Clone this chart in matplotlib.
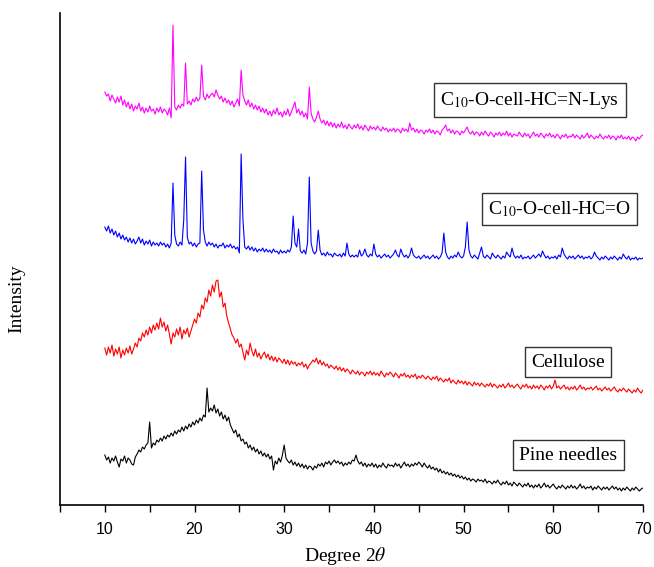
import numpy as np
import matplotlib
matplotlib.use("Agg")
import matplotlib.pyplot as plt

plt.rcParams['font.family'] = ['Liberation Serif', 'DejaVu Serif']
plt.rcParams['mathtext.fontset'] = 'stix'

# 2-theta grid, 10..70 deg in 0.2 deg steps
two_theta = np.round(np.arange(10.0, 70.01, 0.2), 1)

# intensities (arbitrary units, curves already offset)
lys = [
    413, 409, 411, 404, 410, 406, 402, 408, 403, 409,
    400, 405, 398, 403, 396, 401, 394, 399, 396, 402,
    394, 398, 392, 397, 393, 399, 394, 396, 391, 397,
    393, 398, 392, 396, 394, 390, 397, 387, 480, 398,
    395, 400, 397, 401, 399, 442, 401, 404, 400, 406,
    403, 408, 404, 407, 440, 409, 405, 411, 407, 410,
    412, 408, 415, 410, 406, 409, 403, 407, 402, 405,
    400, 404, 398, 402, 406, 399, 435, 410, 404, 400,
    405, 398, 402, 396, 400, 395, 399, 393, 397, 392,
    396, 390, 394, 389, 395, 391, 397, 390, 393, 388,
    394, 390, 396, 389, 393, 398, 403, 392, 396, 390,
    394, 388, 392, 386, 418, 392, 386, 383, 388, 394,
    386, 382, 385, 380, 384, 379, 383, 378, 382, 377,
    381, 378, 383, 377, 380, 376, 381, 378, 376, 380,
    377, 381, 376, 379, 375, 380, 377, 374, 379, 376,
    378, 375, 379, 376, 374, 378, 375, 377, 373, 376,
    374, 377, 373, 376, 375, 372, 377, 374, 376, 373,
    382, 375, 377, 373, 376, 372, 375, 374, 371, 375,
    373, 376, 372, 375, 371, 374, 373, 370, 375, 377,
    380, 374, 376, 372, 375, 371, 374, 373, 370, 374,
    372, 375, 378, 373, 371, 374, 370, 373, 372, 369,
    373, 370, 374, 371, 369, 373, 371, 368, 372, 370,
    373, 369, 372, 370, 374, 369, 372, 368, 371, 370,
    369, 373, 370, 368, 372, 369, 371, 367, 370, 373,
    369, 371, 368, 372, 370, 367, 371, 369, 372, 368,
    370, 367, 371, 369, 366, 370, 368, 371, 367, 369,
    368, 371, 367, 370, 368, 366, 370, 367, 369, 372,
    367, 370, 368, 366, 369, 367, 371, 368, 366, 369,
    367, 370, 366, 369, 368, 365, 369, 367, 370, 366,
    368, 366, 369, 365, 368, 367, 364, 368, 366, 369,
    370,
]

aldehyde = [
    278, 274, 279, 272, 276, 270, 274, 268, 272, 266,
    270, 265, 268, 263, 267, 262, 266, 261, 264, 268,
    262, 266, 260, 264, 261, 265, 259, 263, 260, 262,
    259, 263, 260, 262, 258, 261, 257, 262, 322, 270,
    261, 259, 263, 260, 285, 348, 268, 261, 263, 259,
    262, 258, 261, 262, 334, 275, 263, 259, 263, 260,
    262, 258, 261, 257, 260, 259, 262, 257, 260, 258,
    261, 257, 259, 256, 258, 252, 351, 285, 258, 256,
    259, 255, 258, 254, 257, 253, 256, 254, 257, 253,
    256, 253, 255, 252, 256, 253, 254, 251, 255, 252,
    254, 252, 255, 253, 258, 289, 262, 258, 276, 254,
    252, 255, 251, 262, 328, 262, 254, 251, 254, 275,
    255, 250, 252, 249, 253, 250, 251, 248, 252, 250,
    249, 251, 248, 252, 249, 262, 251, 248, 250, 248,
    250, 248, 255, 249, 251, 256, 250, 248, 251, 249,
    261, 251, 248, 250, 247, 249, 251, 248, 250, 247,
    249, 251, 255, 250, 248, 256, 251, 248, 250, 247,
    250, 257, 250, 248, 247, 249, 246, 248, 250, 247,
    249, 246, 248, 250, 247, 249, 246, 248, 252, 272,
    253, 248, 246, 249, 247, 250, 248, 253, 249, 247,
    249, 258, 283, 255, 249, 247, 250, 248, 246, 252,
    258, 249, 247, 250, 248, 246, 252, 249, 247, 250,
    248, 246, 249, 247, 253, 250, 248, 257, 250, 247,
    249, 247, 250, 246, 248, 247, 249, 246, 248, 250,
    247, 249, 251, 248, 254, 250, 247, 249, 246, 248,
    247, 249, 246, 250, 248, 257, 251, 248, 246, 249,
    247, 249, 246, 248, 250, 247, 249, 246, 248, 247,
    249, 246, 248, 253, 249, 247, 245, 248, 246, 249,
    247, 245, 248, 246, 249, 247, 245, 248, 246, 251,
    248, 246, 249, 245, 247, 246, 248, 245, 247, 246,
    247,
]

cellulose = [
    157, 150, 158, 152, 160, 149, 156, 151, 158, 147,
    155, 150, 157, 152, 159, 151, 156, 162, 158, 167,
    164, 172, 168, 175, 170, 178, 172, 180, 175, 182,
    176, 187, 178, 183, 174, 180, 171, 161, 172, 168,
    176, 170, 178, 166, 175, 171, 177, 168, 174, 180,
    186, 182, 192, 188, 200, 196, 207, 203, 215, 209,
    220, 213, 224, 225, 208, 213, 198, 202, 189, 182,
    176, 170, 167, 162, 166, 158, 161, 153, 145, 155,
    150, 162, 154, 149, 156, 148, 152, 146, 150, 153,
    147, 151, 145, 149, 144, 148, 143, 147, 145, 142,
    146, 141, 145, 140, 144, 141, 143, 139, 142, 140,
    143, 138, 141, 136, 140, 142, 145, 143, 147, 141,
    145, 140, 143, 139, 141, 137, 140, 138, 136, 139,
    135, 138, 134, 137, 133, 136, 134, 131, 135, 133,
    131, 134, 130, 133, 132, 129, 133, 131, 134, 130,
    133, 130, 132, 129, 134, 131, 128, 132, 130, 133,
    131, 128, 132, 130, 127, 131, 129, 132, 128, 130,
    127, 130, 128, 131, 126, 129, 127, 130, 128, 126,
    129, 127, 125, 128, 126, 129, 124, 127, 125, 123,
    126, 124, 127, 122, 125, 123, 121, 125, 122, 124,
    121, 124, 120, 123, 121, 119, 123, 120, 122, 119,
    122, 120, 118, 121, 119, 122, 118, 121, 119, 117,
    120, 118, 121, 117, 119, 122, 118, 120, 117, 119,
    121, 118, 116, 120, 118, 121, 117, 119, 116, 120,
    117, 119, 116, 120, 118, 115, 119, 117, 120, 116,
    119, 125, 117, 119, 116, 118, 120, 116, 118, 115,
    118, 116, 119, 115, 117, 120, 116, 118, 115, 117,
    116, 118, 115, 117, 119, 115, 117, 114, 116, 118,
    115, 117, 114, 116, 118, 115, 113, 116, 114, 117,
    115, 113, 116, 114, 112, 115, 113, 117, 114, 112,
    115,
]

pine = [
    50, 45, 48, 42, 47, 44, 49, 43, 38, 46,
    44, 49, 42, 47, 45, 41, 40, 48, 51, 55,
    53, 58, 56, 60, 62, 83, 57, 62, 60, 65,
    63, 67, 64, 69, 66, 70, 68, 72, 69, 74,
    71, 75, 73, 78, 74, 79, 76, 81, 78, 83,
    80, 85, 82, 87, 84, 90, 88, 117, 93, 97,
    94, 100, 92, 96, 89, 93, 86, 90, 84, 88,
    80, 76, 72, 75, 68, 71, 64, 66, 61, 63,
    57, 60, 55, 58, 53, 56, 51, 54, 49, 52,
    48, 51, 46, 49, 35, 44, 41, 47, 43, 50,
    60, 47, 44, 42, 45, 40, 43, 39, 42, 38,
    41, 37, 40, 36, 39, 38, 35, 39, 37, 41,
    39, 42, 38, 43, 41, 44, 40, 43, 45, 42,
    44, 41, 43, 39, 42, 40, 43, 41, 45, 44,
    50, 44, 41, 43, 39, 42, 38, 41, 39, 42,
    38, 41, 37, 40, 38, 42, 39, 37, 41, 39,
    40, 38, 42, 39, 41, 37, 40, 43, 39, 41,
    38, 41, 39, 42, 40, 43, 41, 38, 42, 39,
    37, 40, 36, 38, 35, 37, 33, 36, 32, 34,
    31, 33, 30, 32, 29, 31, 28, 30, 27, 29,
    26, 28, 25, 27, 24, 26, 25, 23, 26, 24,
    25, 23, 26, 22, 24, 23, 21, 24, 22, 25,
    22, 20, 23, 21, 24, 20, 22, 19, 23, 21,
    19, 22, 20, 18, 21, 19, 22, 18, 20, 17,
    20, 18, 21, 17, 19, 22, 18, 20, 17, 19,
    21, 18, 16, 19, 17, 20, 18, 16, 19, 17,
    20, 17, 19, 16, 18, 21, 17, 19, 16, 18,
    17, 19, 15, 18, 16, 19, 17, 15, 18, 16,
    18, 15, 17, 19, 16, 18, 15, 17, 14, 17,
    15, 18, 16, 14, 17, 15, 18, 16, 14, 16,
    17,
]

labels = ['C$_{10}$-O-cell-HC=N-Lys', 'C$_{10}$-O-cell-HC=O', 'Cellulose', 'Pine needles']
colors = ['#ff00ff', '#0000ff', '#ff0000', '#000000']
label_pos = [(57.4, 405), (60.7, 296), (61.6, 143), (61.7, 50)]

fig = plt.figure(figsize=(6.54, 5.67), dpi=100)
ax = fig.add_axes([0.0917, 0.1093, 0.8914, 0.8677])

for y, c in zip([lys, aldehyde, cellulose, pine], colors):
    ax.plot(two_theta, y, color=c, lw=0.8)

for (tx, ty), lab in zip(label_pos, labels):
    ax.text(tx, ty, lab, fontsize=14, ha='center', va='center',
            bbox=dict(boxstyle='square,pad=0.32', fc='white', ec='#333333', lw=1))

ax.set_xlim(5, 70)
ax.set_ylim(0, 492)
ax.set_xticks(range(10, 71, 10))
ax.set_xticks(range(5, 70, 10), minor=True)
ax.set_yticks([])
ax.tick_params(axis='x', which='both', direction='out', length=5, width=1,
               pad=7, labelsize=11.5, labelfontfamily='Liberation Sans')
for s in ['top', 'right']:
    ax.spines[s].set_visible(False)
for s in ['left', 'bottom']:
    ax.spines[s].set_linewidth(1.2)

ax.set_xlabel(r'Degree 2$\it{\theta}$', fontsize=14)
ax.xaxis.set_label_coords(0.49, -0.082)
ax.set_ylabel('Intensity', fontsize=14)
ax.yaxis.set_label_coords(-0.060, 0.42)

fig.savefig('out.png', dpi=100)
